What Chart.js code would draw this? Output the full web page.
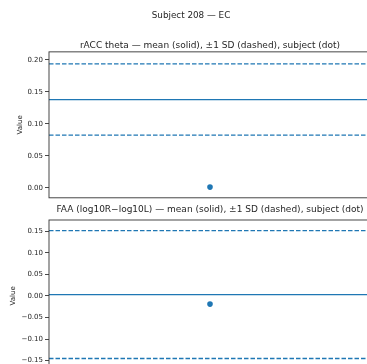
<!DOCTYPE html>
<html>
<head>
<meta charset="utf-8">
<script src="https://cdn.jsdelivr.net/npm/chart.js@4.4.1/dist/chart.umd.min.js"></script>
<style>
  html, body { margin:0; padding:0; background:#fff; }
  body { width:367px; height:364px; overflow:hidden; position:relative; }
  canvas { position:absolute; left:0; }
  #c1 { top:0; }
  #c2 { top:200px; }
</style>
</head>
<body>
<canvas id="c2" width="382" height="178"></canvas>
<canvas id="c1" width="382" height="204"></canvas>
<script>
const figureTitle = 'Subject 208 — EC';
const panelTitles = [
  'rACC theta — mean (solid), ±1 SD (dashed), subject (dot)',
  'FAA (log10R−log10L) — mean (solid), ±1 SD (dashed), subject (dot)'
];
const means = [0.138, 0.003];
const sds = [0.0557, 0.148];
const subjects = [0.001, -0.019];
const yTicksTop = [0.00, 0.05, 0.10, 0.15, 0.20];
const yTicksBottom = [-0.15, -0.10, -0.05, 0.00, 0.05, 0.10, 0.15];
const yRanges = [[-0.0157, 0.2126], [-0.1758, 0.1758]];

const C0 = '#1f77b4';
const FONT = 'DejaVu Sans';
const TXT = '#262626';

const spines = {
  id: 'spines',
  afterDatasetsDraw(chart) {
    const a = chart.chartArea, ctx = chart.ctx;
    ctx.save();
    ctx.strokeStyle = '#333';
    ctx.lineWidth = 0.9;
    ctx.strokeRect(a.left, a.top, a.right - a.left, a.bottom - a.top);
    ctx.restore();
  }
};

function fmt(v) {
  const s = Math.abs(v) < 1e-9 ? '0.00' : v.toFixed(2);
  return s.replace('-', '\u2212');
}

function makeChart(id, i, ticksArr, o) {
  const m = means[i], s = sds[i];
  const hline = (y, dash, w) => ({
    data: [{x: -1, y: y}, {x: 1, y: y}],
    showLine: true, pointRadius: 0, borderColor: C0, borderWidth: w,
    borderDash: dash, backgroundColor: C0
  });
  return new Chart(document.getElementById(id), {
    type: 'scatter',
    data: {
      datasets: [
        hline(m, [], 1.3),
        hline(m + s, [4.5, 2], 1.3),
        hline(m - s, [4.5, 2], 1.3),
        { data: [{x: 0, y: subjects[i]}], pointRadius: 2.8, pointBackgroundColor: C0,
          pointBorderWidth: 0, backgroundColor: C0, showLine: false }
      ]
    },
    options: {
      responsive: false,
      animation: false,
      devicePixelRatio: 1,
      layout: { padding: { left: o.leftPad, right: 11, top: 0, bottom: o.bottomPad } },
      plugins: Object.assign({
        legend: { display: false },
        tooltip: { enabled: false }
      }, o.cfg),
      scales: {
        x: { type: 'linear', min: -1, max: 1, display: false },
        y: {
          min: yRanges[i][0], max: yRanges[i][1],
          afterBuildTicks: (sc) => { sc.ticks = ticksArr.map(v => ({value: v})); },
          afterFit: (sc) => { sc.width = 49 - o.leftPad; },
          grid: { drawOnChartArea: false, drawTicks: true, tickLength: 4, color: '#333', lineWidth: 0.9 },
          border: { display: false },
          ticks: { font: { family: FONT, size: 7 }, color: TXT, padding: 2, callback: (v) => fmt(v) },
          title: { display: true, text: 'Value', font: { family: FONT, size: 7 }, color: TXT,
                   padding: { top: o.titlePad, bottom: 0 } }
        }
      }
    },
    plugins: [spines]
  });
}

makeChart('c1', 0, yTicksTop, {
  leftPad: 11, titlePad: 5, bottomPad: 3,
  cfg: {
    title: { display: true, text: figureTitle, font: { family: FONT, size: 8.8, weight: 'normal' },
             color: TXT, padding: { top: 10, bottom: 20 }, fullSize: true },
    subtitle: { display: true, text: panelTitles[0], font: { family: FONT, size: 9 },
                color: TXT, padding: { top: 0, bottom: 0.5 }, fullSize: false }
  }
});
makeChart('c2', 1, yTicksBottom, {
  leftPad: 0, titlePad: 9, bottomPad: 0,
  cfg: {
    title: { display: true, text: panelTitles[1], font: { family: FONT, size: 9, weight: 'normal' },
             color: TXT, padding: { top: 4.5, bottom: 4.7 }, fullSize: false }
  }
});
</script>
</body>
</html>
